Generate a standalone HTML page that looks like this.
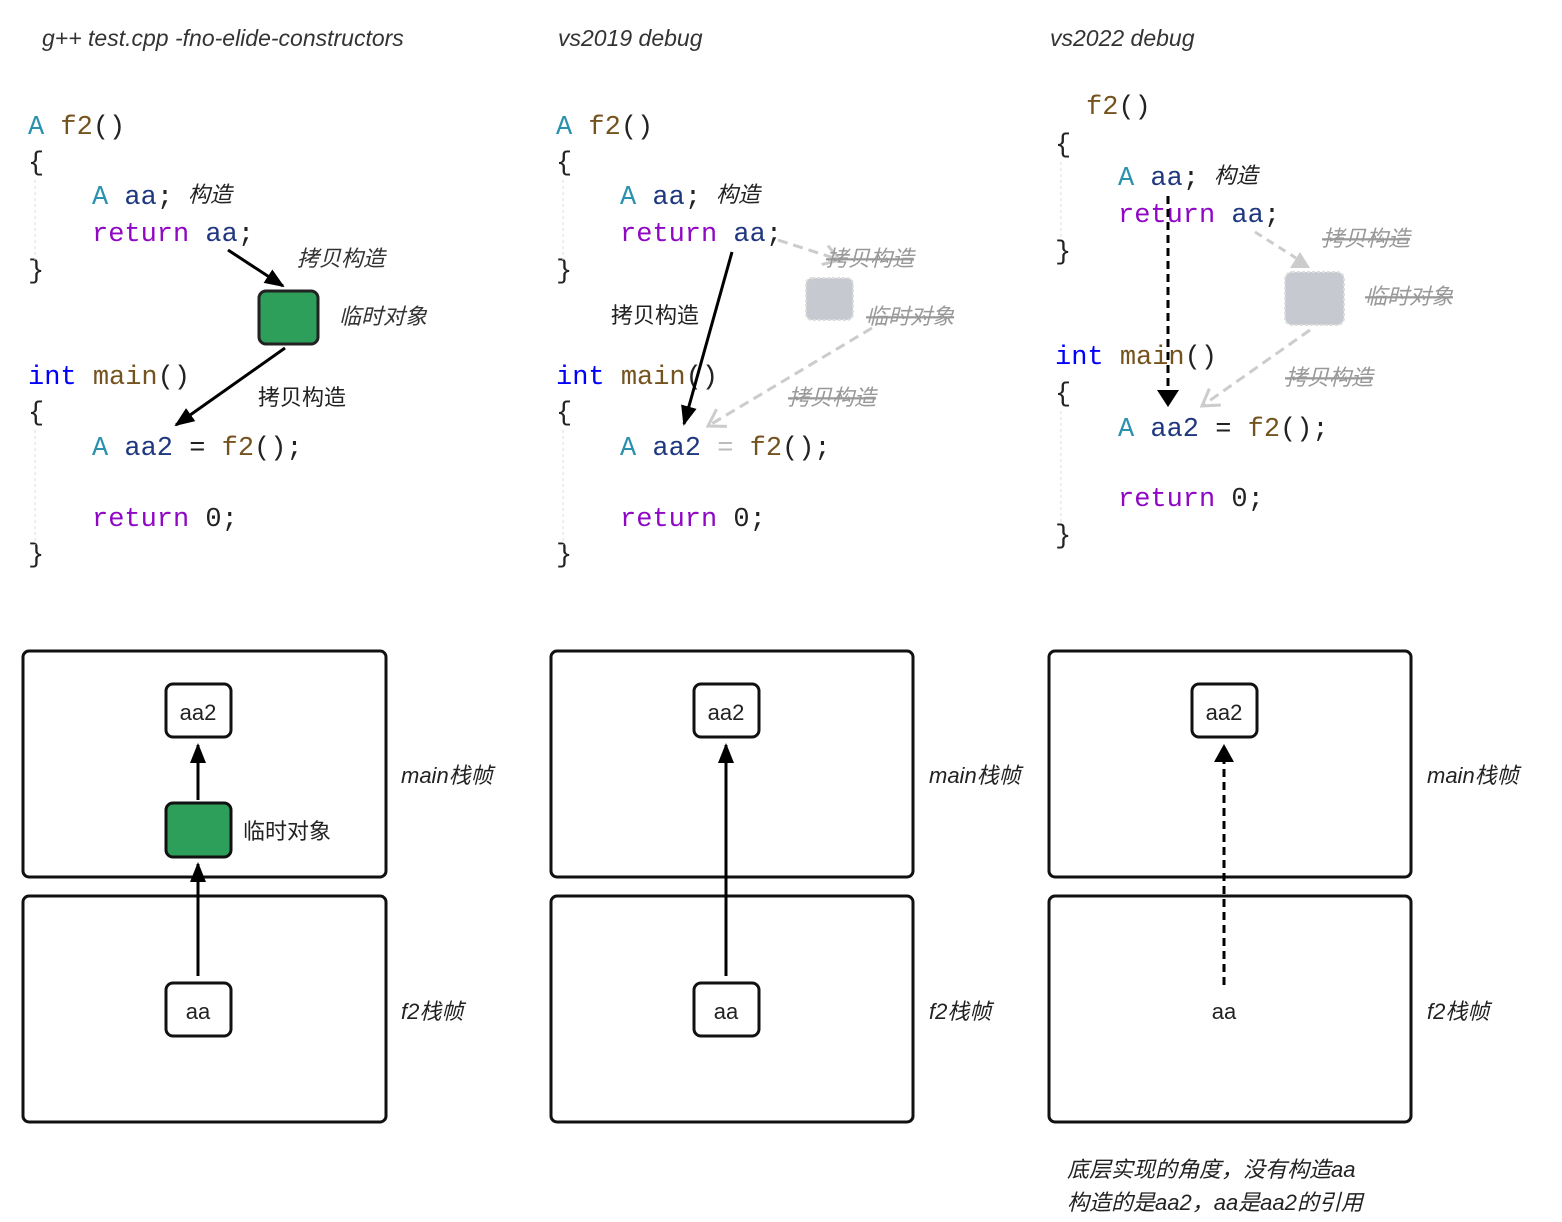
<!DOCTYPE html>
<html><head><meta charset="utf-8"><style>
html,body{margin:0;padding:0;background:#fff;}
svg{display:block;}
.c{font-family:"Liberation Mono",monospace;font-size:27px;white-space:pre;}
.t{fill:#2b91af}.v{fill:#1f377f}.k{fill:#8f08c4}.b{fill:#0000ff}.f{fill:#74531f}.p{fill:#222}
.cn{font-family:"Liberation Sans","Noto Sans CJK SC",sans-serif;font-size:22px;fill:#222;}
.it{font-style:italic;}
.g{fill:#999;text-decoration:line-through;}
</style></head><body>
<svg width="1562" height="1222" viewBox="0 0 1562 1222" xmlns="http://www.w3.org/2000/svg">
<defs>
<marker id="ah" markerWidth="10" markerHeight="10" refX="8" refY="5" orient="auto" markerUnits="userSpaceOnUse"><path d="M0,0 L10,5 L0,10 z" fill="#000"/></marker>
<marker id="ahb" markerWidth="20" markerHeight="20" refX="18" refY="10" orient="auto" markerUnits="userSpaceOnUse"><path d="M0,2 L20,10 L0,18 z" fill="#000"/></marker>
<marker id="ag" markerWidth="24" markerHeight="24" refX="20" refY="12" orient="auto" markerUnits="userSpaceOnUse"><path d="M4,2 L20,12 L4,22" fill="none" stroke="#ccc" stroke-width="3"/></marker>
</defs>
<!-- titles -->
<text x="42" y="46" class="cn it" style="font-size:23px;fill:#333">g++ test.cpp -fno-elide-constructors</text>
<text x="558" y="46" class="cn it" style="font-size:23px;fill:#333">vs2019 debug</text>
<text x="1050" y="46" class="cn it" style="font-size:23px;fill:#333">vs2022 debug</text>

<!-- column code blocks -->
<g>
<text class="c" x="28" y="134"><tspan class="t">A</tspan> <tspan class="f">f2</tspan><tspan class="p">()</tspan></text>
<text class="c p" x="28" y="170">{</text>
<text class="c" x="92" y="204"><tspan class="t">A</tspan> <tspan class="v">aa</tspan><tspan class="p">;</tspan></text>
<text class="c" x="92" y="241"><tspan class="k">return</tspan> <tspan class="v">aa</tspan><tspan class="p">;</tspan></text>
<text class="c p" x="28" y="278">}</text>
<text class="c" x="28" y="384"><tspan class="b">int</tspan> <tspan class="f">main</tspan><tspan class="p">()</tspan></text>
<text class="c p" x="28" y="420">{</text>
<text class="c" x="92" y="455"><tspan class="t">A</tspan> <tspan class="v">aa2</tspan><tspan class="p"> = </tspan><tspan class="f">f2</tspan><tspan class="p">();</tspan></text>
<text class="c" x="92" y="526"><tspan class="k">return</tspan><tspan class="p"> 0;</tspan></text>
<text class="c p" x="28" y="562">}</text>
<line x1="35" y1="180" x2="35" y2="260" stroke="#ddd" stroke-dasharray="3,3"/>
<line x1="35" y1="430" x2="35" y2="545" stroke="#ddd" stroke-dasharray="3,3"/>
</g>
<text x="188" y="202" class="cn it">构造</text>
<line x1="228" y1="250" x2="283" y2="286" stroke="#000" stroke-width="3" marker-end="url(#ahb)"/>
<rect x="259" y="291" width="59" height="53" rx="7" fill="#2e9e5b" stroke="#222" stroke-width="3"/>
<line x1="285" y1="348" x2="176" y2="425" stroke="#000" stroke-width="3" marker-end="url(#ahb)"/>
<text x="297" y="266" class="cn it" style="fill:#333">拷贝构造</text>
<text x="339" y="324" class="cn it" style="fill:#333">临时对象</text>
<text x="258" y="405" class="cn">拷贝构造</text>

<g transform="translate(528,0)">
<text class="c" x="28" y="134"><tspan class="t">A</tspan> <tspan class="f">f2</tspan><tspan class="p">()</tspan></text>
<text class="c p" x="28" y="170">{</text>
<text class="c" x="92" y="204"><tspan class="t">A</tspan> <tspan class="v">aa</tspan><tspan class="p">;</tspan></text>
<text class="c" x="92" y="241"><tspan class="k">return</tspan> <tspan class="v">aa</tspan><tspan class="p">;</tspan></text>
<text class="c p" x="28" y="278">}</text>
<text class="c" x="28" y="384"><tspan class="b">int</tspan> <tspan class="f">main</tspan><tspan class="p">()</tspan></text>
<text class="c p" x="28" y="420">{</text>
<text class="c" x="92" y="455"><tspan class="t">A</tspan> <tspan class="v">aa2</tspan><tspan class="p" style="fill:#bbb"> = </tspan><tspan class="f">f2</tspan><tspan class="p">();</tspan></text>
<text class="c" x="92" y="526"><tspan class="k">return</tspan><tspan class="p"> 0;</tspan></text>
<text class="c p" x="28" y="562">}</text>
<line x1="35" y1="180" x2="35" y2="260" stroke="#ddd" stroke-dasharray="3,3"/>
<line x1="35" y1="430" x2="35" y2="545" stroke="#ddd" stroke-dasharray="3,3"/>
<text x="188" y="202" class="cn it">构造</text>
</g>
<line x1="732" y1="252" x2="684" y2="424" stroke="#000" stroke-width="3" marker-end="url(#ahb)"/>
<text x="611" y="323" class="cn">拷贝构造</text>
<line x1="778" y1="240" x2="840" y2="260" stroke="#ccc" stroke-width="3" stroke-dasharray="10,6" marker-end="url(#ag)"/>
<rect x="806" y="278" width="47" height="42" rx="6" fill="#c6c9d0" stroke="#ddd" stroke-width="2" stroke-dasharray="3,2"/>
<line x1="872" y1="328" x2="708" y2="426" stroke="#ccc" stroke-width="3" stroke-dasharray="10,6" marker-end="url(#ag)"/>
<text x="826" y="266" class="cn it g">拷贝构造</text>
<text x="866" y="324" class="cn it g">临时对象</text>
<text x="788" y="405" class="cn it g">拷贝构造</text>

<g>
<text class="c" x="1086" y="114"><tspan class="f">f2</tspan><tspan class="p">()</tspan></text>
<text class="c p" x="1055" y="152">{</text>
<text class="c" x="1118" y="185"><tspan class="t">A</tspan> <tspan class="v">aa</tspan><tspan class="p">;</tspan></text>
<text class="c" x="1118" y="222"><tspan class="k">return</tspan> <tspan class="v">aa</tspan><tspan class="p">;</tspan></text>
<text class="c p" x="1055" y="259">}</text>
<text class="c" x="1055" y="364"><tspan class="b">int</tspan> <tspan class="f">main</tspan><tspan class="p">()</tspan></text>
<text class="c p" x="1055" y="401">{</text>
<text class="c" x="1118" y="436"><tspan class="t">A</tspan> <tspan class="v">aa2</tspan><tspan class="p"> = </tspan><tspan class="f">f2</tspan><tspan class="p">();</tspan></text>
<text class="c" x="1118" y="506"><tspan class="k">return</tspan><tspan class="p"> 0;</tspan></text>
<text class="c p" x="1055" y="543">}</text>
<line x1="1061" y1="162" x2="1061" y2="240" stroke="#ddd" stroke-dasharray="3,3"/>
<line x1="1061" y1="411" x2="1061" y2="525" stroke="#ddd" stroke-dasharray="3,3"/>
</g>
<text x="1214" y="183" class="cn it">构造</text>
<line x1="1168" y1="196" x2="1168" y2="392" stroke="#000" stroke-width="3" stroke-dasharray="8,5"/>
<path d="M1157,390 L1179,390 L1168,407 z" fill="#000"/>
<line x1="1255" y1="232" x2="1296" y2="258" stroke="#ccc" stroke-width="3" stroke-dasharray="8,6"/>
<path d="M1290,268 L1310,268 L1300,252 z" fill="#ccc"/>
<rect x="1285" y="272" width="59" height="53" rx="7" fill="#c6c9d0" stroke="#ddd" stroke-width="2" stroke-dasharray="3,2"/>
<line x1="1310" y1="330" x2="1202" y2="406" stroke="#ccc" stroke-width="3" stroke-dasharray="10,6" marker-end="url(#ag)"/>
<text x="1322" y="246" class="cn it g">拷贝构造</text>
<text x="1365" y="304" class="cn it g">临时对象</text>
<text x="1285" y="385" class="cn it g">拷贝构造</text>

<!-- frames -->
<g fill="none" stroke="#111" stroke-width="3">
<rect x="23" y="651" width="363" height="226" rx="6"/>
<rect x="23" y="896" width="363" height="226" rx="6"/>
<rect x="551" y="651" width="362" height="226" rx="6"/>
<rect x="551" y="896" width="362" height="226" rx="6"/>
<rect x="1049" y="651" width="362" height="226" rx="6"/>
<rect x="1049" y="896" width="362" height="226" rx="6"/>
</g>
<g class="cn it">
<text x="401" y="783">main栈帧</text><text x="401" y="1019">f2栈帧</text>
<text x="929" y="783">main栈帧</text><text x="929" y="1019">f2栈帧</text>
<text x="1427" y="783">main栈帧</text><text x="1427" y="1019">f2栈帧</text>
</g>
<!-- col1 bottom -->
<rect x="166" y="684" width="65" height="53" rx="7" fill="#fff" stroke="#111" stroke-width="3"/>
<text x="198" y="720" class="cn" text-anchor="middle">aa2</text>
<rect x="166" y="803" width="65" height="54" rx="7" fill="#2e9e5b" stroke="#111" stroke-width="3"/>
<text x="243" y="839" class="cn">临时对象</text>
<rect x="166" y="983" width="65" height="53" rx="7" fill="#fff" stroke="#111" stroke-width="3"/>
<text x="198" y="1019" class="cn" text-anchor="middle">aa</text>
<line x1="198" y1="800" x2="198" y2="745" stroke="#000" stroke-width="3" marker-end="url(#ahb)"/>
<line x1="198" y1="976" x2="198" y2="864" stroke="#000" stroke-width="3" marker-end="url(#ahb)"/>
<!-- col2 bottom -->
<rect x="694" y="684" width="65" height="53" rx="7" fill="#fff" stroke="#111" stroke-width="3"/>
<text x="726" y="720" class="cn" text-anchor="middle">aa2</text>
<rect x="694" y="983" width="65" height="53" rx="7" fill="#fff" stroke="#111" stroke-width="3"/>
<text x="726" y="1019" class="cn" text-anchor="middle">aa</text>
<line x1="726" y1="976" x2="726" y2="745" stroke="#000" stroke-width="3" marker-end="url(#ahb)"/>
<!-- col3 bottom -->
<rect x="1192" y="684" width="65" height="53" rx="7" fill="#fff" stroke="#111" stroke-width="3"/>
<text x="1224" y="720" class="cn" text-anchor="middle">aa2</text>
<text x="1224" y="1019" class="cn" text-anchor="middle">aa</text>
<line x1="1224" y1="985" x2="1224" y2="762" stroke="#000" stroke-width="3" stroke-dasharray="8,5"/>
<path d="M1214,762 L1234,762 L1224,744 z" fill="#000"/>
<text x="1067" y="1177" class="cn it">底层实现的角度，没有构造aa</text>
<text x="1067" y="1210" class="cn it">构造的是aa2，aa是aa2的引用</text>
</svg>
</body></html>
